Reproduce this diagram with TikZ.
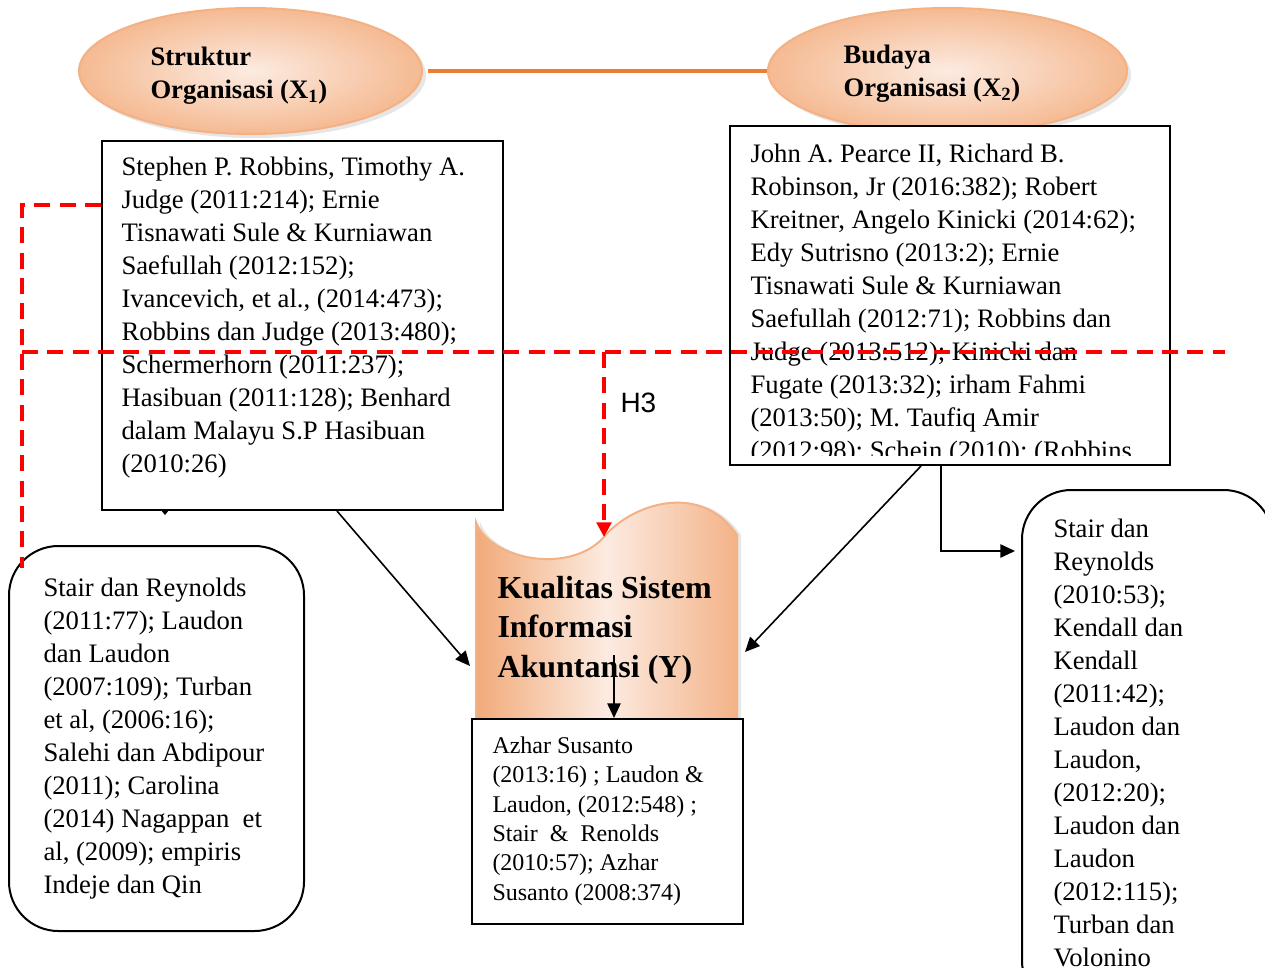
\documentclass[tikz,border=0pt]{standalone}
\usepackage{fontspec}
\setmainfont{Liberation Serif}
\setsansfont{Liberation Sans}
\usetikzlibrary{shapes.geometric,arrows.meta,shadows}

\definecolor{peachDark}{RGB}{245,186,146}
\definecolor{peachLight}{RGB}{252,235,225}
\definecolor{peachLine}{RGB}{244,177,131}
\definecolor{peachWave}{RGB}{242,170,122}
\definecolor{linkOrange}{RGB}{237,125,49}
\definecolor{hypRed}{RGB}{255,0,0}

\newcommand{\refsize}{\fontsize{20}{24.75}\selectfont}
\newcommand{\azharsize}{\fontsize{18}{22}\selectfont}
\newcommand{\varsize}{\fontsize{20}{24.75}\selectfont\bfseries}
\newcommand{\ysize}{\fontsize{24}{29.6}\selectfont\bfseries}

\tikzset{every picture/.style={line width=0.75pt}}
\tikzset{
	varellipse/.style={ellipse, draw=peachLine, line width=1.5pt, inner sep=0pt, inner color=peachLight, outer color=peachDark, drop shadow={shadow xshift=3pt, shadow yshift=-3pt, opacity=0.2, fill=black!50}},
	refbox/.style={draw, line width=1.5pt, fill=white, anchor=north west, inner sep=0pt},
	roundbox/.style={refbox, rounded corners=37pt},
	% base of a multi-line node is its last line
	reftext/.style={align=left, anchor=base west, inner sep=0pt, font=\refsize},
	arr/.style={line width=1.2pt, -{Triangle[length=11pt,width=10pt]}},
	hyp/.style={draw=hypRed, line width=2.6pt, dash pattern=on 12pt off 7pt}
}

\begin{document}
\begin{tikzpicture}[x=0.75pt,y=0.75pt,yscale=-1,xscale=1]
	%set diagram left start at 0, and has height of 968
	\clip (0,0) rectangle (1265,968);

	%Shape: Ellipse
	\node[varellipse, minimum width=0.75*343pt, minimum height=0.75*126pt] (struktur) at (250.5,71) {};
	%Shape: Ellipse
	\node[varellipse, minimum width=0.75*359pt, minimum height=0.75*126pt] (budaya) at (947.5,71) {};
	%Straight Lines
	\draw[linkOrange, line width=2.3pt] (struktur.east) ++(5,0) -- (budaya.west);

	% Text Node
	\node[reftext, font=\varsize] (struktur title) at (150,98) {Struktur\\Organisasi (X\textsubscript{1})};
	% Text Node
	\node[reftext, font=\varsize] (budaya title) at (843,96) {Budaya\\Organisasi (X\textsubscript{2})};

	%Shape: Rectangle
	\node[refbox, minimum width=0.75*401pt, minimum height=0.75*369pt] (struktur ref) at (101,140) {};
	%Shape: Rectangle
	\node[refbox, minimum width=0.75*440pt, minimum height=0.75*339pt] (budaya ref) at (729,125) {};

	% Text Node
	\node[reftext] (struktur txt) at (121,472) {Stephen P. Robbins, Timothy A.\\Judge (2011:214); Ernie\\Tisnawati Sule \& Kurniawan\\Saefullah (2012:152);\\Ivancevich, et al., (2014:473);\\Robbins dan Judge (2013:480);\\Schermerhorn (2011:237);\\Hasibuan (2011:128); Benhard\\dalam Malayu S.P Hasibuan\\(2010:26)};
	% Text Node (cut at the box bottom)
	\coordinate (budaya clip) at (1169,455);
	\begin{scope}
		\clip (budaya ref.north west) rectangle (budaya clip);
		\node[reftext] (budaya txt) at (750,459) {John A. Pearce II, Richard B.\\Robinson, Jr (2016:382); Robert\\Kreitner, Angelo Kinicki (2014:62);\\Edy Sutrisno (2013:2); Ernie\\Tisnawati Sule \& Kurniawan\\Saefullah (2012:71); Robbins dan\\Judge (2013:512); Kinicki dan\\Fugate (2013:32); irham Fahmi\\(2013:50); M. Taufiq Amir\\(2012:98); Schein (2010); (Robbins};
	\end{scope}
	%Shape: Triangle
	\fill (161,510) -- (169,510) -- (165,515) -- cycle;

	%Shape: Rounded Rectangle
	\node[roundbox, minimum width=0.75*295pt, minimum height=0.75*385pt] (stair left) at (8,545) {};
	% Text Node
	\node[reftext] (stair left txt) at (43,893) {Stair dan Reynolds\\(2011:77); Laudon\\dan Laudon\\(2007:109); Turban\\et al, (2006:16);\\Salehi dan Abdipour\\(2011); Carolina\\(2014) Nagappan~ et\\al, (2009); empiris\\Indeje dan Qin};
	%Shape: Rounded Rectangle
	\node[roundbox, minimum width=0.75*251pt, minimum height=0.75*520pt] (stair right) at (1021,489) {};
	% Text Node
	\node[reftext] (stair right txt) at (1053,966) {Stair dan\\Reynolds\\(2010:53);\\Kendall dan\\Kendall\\(2011:42);\\Laudon dan\\Laudon,\\(2012:20);\\Laudon dan\\Laudon\\(2012:115);\\Turban dan\\Volonino};

	%Shape: Wave
	\draw[draw=peachLine, line width=1.5pt, left color=peachWave, right color=peachWave!90!white, middle color=peachLight, drop shadow={shadow xshift=3pt, shadow yshift=0pt, opacity=0.2, fill=black!50}] (476,522) .. controls (490,560) and (570,575) .. (604,537) .. controls (630,505) and (700,480) .. (737,535) -- (737,722) -- (476,722) -- cycle;
	\coordinate (kualitas dip) at (604,537);
	\coordinate (kualitas west) at (470,666);
	\coordinate (kualitas east) at (745,652);
	\coordinate (akuntansi mid) at (614,655);
	% Text Node
	\node[reftext, font=\ysize] (kualitas title) at (497,677) {Kualitas Sistem\\Informasi\\Akuntansi (Y)};

	%Shape: Rectangle
	\node[refbox, minimum width=0.75*271pt, minimum height=0.75*205pt] (azhar ref) at (471,718) {};
	% Text Node
	\node[reftext, font=\azharsize] (azhar txt) at (492,900) {Azhar Susanto\\(2013:16) ; Laudon \&\\Laudon, (2012:548) ;\\Stair~ \&~ Renolds\\(2010:57); Azhar\\Susanto (2008:374)};

	%Straight Lines
	\draw[arr] (struktur ref.south) ++(34.5,0) -- (kualitas west);
	\draw[arr] (budaya ref.south) ++(-29,0) -- (kualitas east);
	\draw[arr] (budaya ref.south) ++(-9,0) |- (1015,551) coordinate (stair right in);
	\draw[arr] (akuntansi mid) -- (akuntansi mid |- azhar ref.north);

	%Dashed Lines (H3)
	\coordinate (hyp corner) at (22,205);
	\coordinate (hyp foot) at (22,568);
	\coordinate (hyp left) at (22,352);
	\coordinate (hyp right) at (1225,352);
	\coordinate (hyp split) at (604,352);
	\draw[hyp] (struktur ref.west |- hyp corner) -- (hyp corner) -- (hyp foot);
	\draw[hyp] (hyp left) -- (hyp right);
	\draw[hyp, -{Triangle[length=11pt,width=11pt]}] (hyp split) -- (kualitas dip);
	% Text Node
	\node[anchor=base west, inner sep=0pt, font=\sffamily\fontsize{21}{25}\selectfont] (h3) at (620,412) {H3};

\end{tikzpicture}
\end{document}
